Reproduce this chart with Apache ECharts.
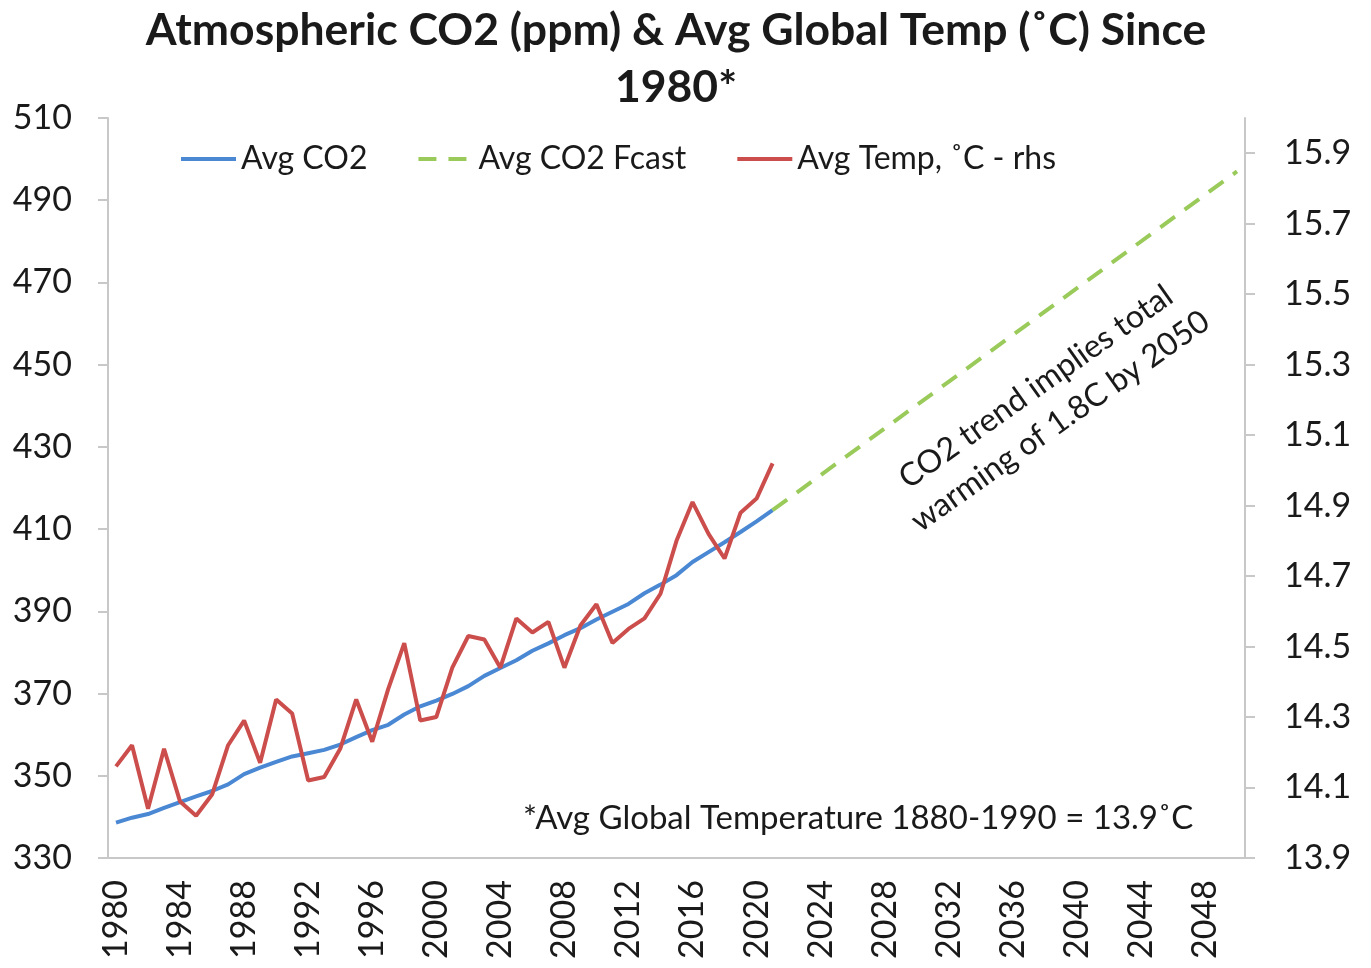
<!DOCTYPE html>
<html>
<head>
<meta charset="utf-8">
<script src="https://cdn.jsdelivr.net/npm/echarts@6/dist/echarts.min.js"></script>
<style>
  html, body { margin: 0; padding: 0; background: #fff; }
  #chart { width: 1371px; height: 968px; }
</style>
</head>
<body>
<div id="chart"></div>
<script>
// categories 1980 - 2050
var years = [];
for (var y = 1980; y <= 2050; y++) { years.push(String(y)); }

// avg CO2 (ppm), 1980 - 2021
var co2 = [338.6, 339.8, 340.7, 342.2, 343.6, 345.0, 346.3, 347.9, 350.4, 352.0,
           353.4, 354.7, 355.5, 356.3, 357.6, 359.4, 361.1, 362.4, 364.9, 366.9,
           368.3, 369.9, 371.8, 374.3, 376.2, 378.1, 380.4, 382.2, 384.2, 385.9,
           388.0, 389.9, 391.8, 394.4, 396.5, 398.8, 402.0, 404.4, 406.8, 409.3,
           411.9, 414.6];

// avg global temp (C), 1980 - 2021
var temp = [14.16, 14.22, 14.04, 14.21, 14.06, 14.02, 14.08, 14.22, 14.29, 14.17,
            14.35, 14.31, 14.12, 14.13, 14.21, 14.35, 14.23, 14.38, 14.51, 14.29,
            14.30, 14.44, 14.53, 14.52, 14.44, 14.58, 14.54, 14.57, 14.44, 14.56,
            14.62, 14.51, 14.55, 14.58, 14.65, 14.80, 14.91, 14.82, 14.75, 14.88,
            14.92, 15.02];

// forecast end points
var fcastYears = ['2021', '2050'];
var fcastValues = [414.6, 497.0];

var font = 'Lato';
var txt = '#1a1a1a';
var axisGrey = '#c8c8c8';

var co2Data = [];
for (var i = 0; i < co2.length; i++) { co2Data.push([years[i], co2[i]]); }
var tempData = [];
for (var j = 0; j < temp.length; j++) { tempData.push([years[j], temp[j]]); }
var fcastData = [];
for (var k = 0; k < fcastYears.length; k++) { fcastData.push([fcastYears[k], fcastValues[k]]); }

var myChart = echarts.init(document.getElementById('chart'), null, { renderer: 'canvas' });
var option = {
  backgroundColor: '#fff',
  animation: false,
  title: {
    text: 'Atmospheric CO2 (ppm) & Avg Global Temp (˚C) Since\n1980*',
    left: 671, textAlign: 'center', top: -3,
    textStyle: { fontFamily: font, fontWeight: 'bold', fontSize: 44.5, lineHeight: 57, color: txt }
  },
  legend: {
    left: 174, top: 138, itemWidth: 55, itemHeight: 14, itemGap: 49,
    itemStyle: { opacity: 0 },
    lineStyle: { width: 4 },
    textStyle: { fontFamily: font, fontSize: 32, color: txt },
    data: ['Avg CO2', 'Avg CO2 Fcast', 'Avg Temp, ˚C - rhs']
  },
  grid: { left: 108, right: 126, top: 118, bottom: 110, containLabel: false },
  xAxis: {
    type: 'category',
    data: years,
    boundaryGap: true,
    axisLine: { lineStyle: { color: axisGrey, width: 2 } },
    axisTick: { interval: 3, length: 9, lineStyle: { color: axisGrey, width: 2 } },
    axisLabel: { interval: 3, rotate: 90, margin: 22, fontFamily: font, fontSize: 34, color: txt },
    splitLine: { show: false }
  },
  yAxis: [
    {
      type: 'value', min: 330, max: 510, interval: 20,
      axisLine: { show: true, lineStyle: { color: axisGrey, width: 2 } },
      axisTick: { show: true, length: 10, lineStyle: { color: axisGrey, width: 2 } },
      axisLabel: { margin: 36, fontFamily: font, fontSize: 34, color: txt },
      splitLine: { show: false }
    },
    {
      type: 'value', min: 13.9, max: 16.0, interval: 0.2, position: 'right',
      axisLine: { show: true, lineStyle: { color: axisGrey, width: 2 } },
      axisTick: { show: true, length: 10, lineStyle: { color: axisGrey, width: 2 } },
      axisLabel: {
        margin: 39, fontFamily: font, fontSize: 34, color: txt, showMaxLabel: false,
        formatter: function (v) { return v.toFixed(1); }
      },
      splitLine: { show: false }
    }
  ],
  series: [
    {
      name: 'Avg CO2', type: 'line', data: co2Data, yAxisIndex: 0,
      symbol: 'none', lineStyle: { color: '#4a88d4', width: 4 }, itemStyle: { color: '#4a88d4' }
    },
    {
      name: 'Avg CO2 Fcast', type: 'line', data: fcastData, yAxisIndex: 0,
      symbol: 'none', lineStyle: { color: '#9acb5a', width: 4, type: [18, 12] }, itemStyle: { color: '#9acb5a' }
    },
    {
      name: 'Avg Temp, ˚C - rhs', type: 'line', data: tempData, yAxisIndex: 1,
      symbol: 'none', lineStyle: { color: '#cc4e4c', width: 4 }, itemStyle: { color: '#cc4e4c' }
    }
  ],
  graphic: [
    {
      type: 'text', x: 1048, y: 404, rotation: 35.3 * Math.PI / 180,
      style: {
        text: 'CO2 trend implies total\nwarming of 1.8C by 2050',
        fontFamily: font, fontSize: 32, lineHeight: 42, fill: txt,
        textAlign: 'center', textVerticalAlign: 'middle'
      }
    },
    {
      type: 'text', x: 523, y: 818,
      style: {
        text: '*Avg Global Temperature 1880-1990 = 13.9˚C',
        fontFamily: font, fontSize: 33, fill: txt,
        textAlign: 'left', textVerticalAlign: 'middle'
      }
    }
  ]
};
myChart.setOption(option);
</script>
</body>
</html>
